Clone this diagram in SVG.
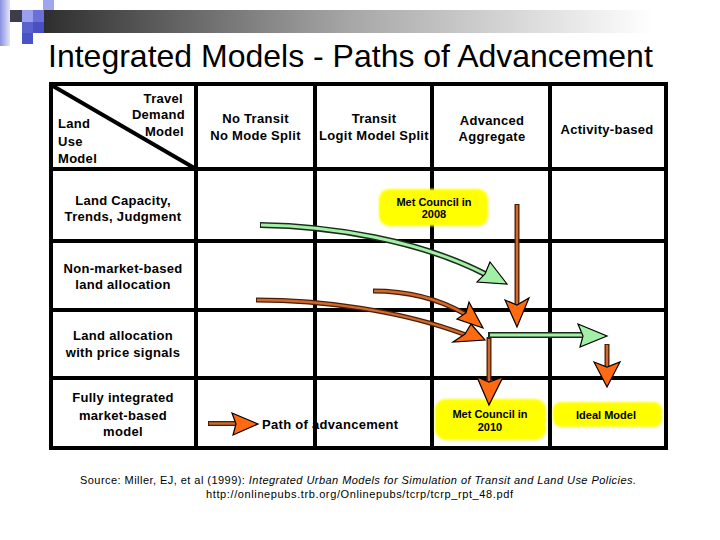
<svg xmlns="http://www.w3.org/2000/svg" width="720" height="540" viewBox="0 0 720 540">
<defs>
  <linearGradient id="bar" x1="0" x2="1" y1="0" y2="0">
    <stop offset="0" stop-color="#2e2e2e"/>
    <stop offset="0.45" stop-color="#a6a6a6"/>
    <stop offset="0.9" stop-color="#ffffff"/>
  </linearGradient>
  <linearGradient id="lb" x1="0" x2="1" y1="0" y2="0">
    <stop offset="0" stop-color="#8890e0"/>
    <stop offset="1" stop-color="#e4e6fa"/>
  </linearGradient>
  <filter id="soft" x="-10%" y="-20%" width="120%" height="140%"><feGaussianBlur stdDeviation="1.2"/></filter>
</defs>
<style>
  .t{font-family:"Liberation Sans",Arial,sans-serif;font-size:13px;font-weight:bold;letter-spacing:0.3px;fill:#000}
  .m{text-anchor:middle}
  .e{text-anchor:end}
  .b{font-family:"Liberation Sans",Arial,sans-serif;font-size:11px;font-weight:bold;text-anchor:middle;fill:#000}
  .grid{stroke:#000;stroke-width:4;fill:none}
  .gol{fill:none;stroke:#1c2a1c;stroke-width:6}
  .gin{fill:none;stroke:#a2f0a6;stroke-width:3}
  .bol{fill:none;stroke:#4a1e08;stroke-width:5}
  .bin{fill:none;stroke:#cf6a2c;stroke-width:2.4}
  .ohead{fill:#ff6a10;stroke:#000;stroke-width:1.2;stroke-linejoin:miter}
  .ghead{fill:#a2f0a6;stroke:#000;stroke-width:1.2;stroke-linejoin:miter}
  .box{fill:#ffff00;filter:url(#soft)}
  .src{font-family:"Liberation Sans",Arial,sans-serif;font-size:11px;fill:#000}
</style>

<g id="decoration">
  <rect x="0" y="0" width="10" height="46" fill="url(#lb)"/>
  <rect x="43" y="10" width="677" height="23" fill="url(#bar)"/>
  <rect x="10" y="10" width="12" height="12" fill="#3c3c4c"/>
  <rect x="22" y="10" width="11" height="12" fill="#9aa0ee"/>
  <rect x="33" y="10" width="11" height="12" fill="#6a70d8"/>
  <rect x="43" y="0" width="11" height="10" fill="#a0a6ee"/>
  <rect x="22" y="22" width="11" height="11" fill="#5a62d0"/>
  <rect x="33" y="22" width="11" height="11" fill="#4a50c0"/>
  <rect x="22" y="33" width="11" height="11" fill="#4a52c8"/>
</g>

<text id="title" x="48" y="67" font-family="'Liberation Sans',Arial,sans-serif" font-size="32" fill="#000">Integrated Models - Paths of Advancement</text>

<g id="table">
  <rect class="grid" x="51" y="84" width="615" height="364"/>
  <path class="grid" d="M196,84V448 M315,84V448 M432,84V448 M550,84V448 M51,169H666 M51,241H666 M51,310H666 M51,378H666"/>
  <path class="grid" d="M53,86 L196,169"/>
</g>

<g id="header-corner">
  <text class="t e" x="183" y="103">Travel</text>
  <text class="t e" x="185" y="119">Demand</text>
  <text class="t e" x="184" y="136">Model</text>
  <text class="t" x="58" y="128">Land</text>
  <text class="t" x="58" y="145.5">Use</text>
  <text class="t" x="58" y="163">Model</text>
</g>
<g id="col-no-transit">
  <text class="t m" x="255.5" y="122.5">No Transit</text>
  <text class="t m" x="255.5" y="139.5">No Mode Split</text>
</g>
<g id="col-transit">
  <text class="t m" x="374" y="122.5">Transit</text>
  <text class="t m" x="374" y="139.5">Logit Model Split</text>
</g>
<g id="col-advanced">
  <text class="t m" x="492" y="124.5">Advanced</text>
  <text class="t m" x="492" y="140.5">Aggregate</text>
</g>
<g id="col-activity">
  <text class="t m" x="607" y="134">Activity-based</text>
</g>
<g id="row-land-capacity">
  <text class="t m" x="123" y="204.5">Land Capacity,</text>
  <text class="t m" x="123" y="220.5">Trends, Judgment</text>
</g>
<g id="row-non-market">
  <text class="t m" x="123" y="273">Non-market-based</text>
  <text class="t m" x="123" y="289">land allocation</text>
</g>
<g id="row-price-signals">
  <text class="t m" x="123" y="340">Land allocation</text>
  <text class="t m" x="123" y="357">with price signals</text>
</g>
<g id="row-fully-integrated">
  <text class="t m" x="123" y="402">Fully integrated</text>
  <text class="t m" x="123" y="419.5">market-based</text>
  <text class="t m" x="123" y="436">model</text>
</g>

<g id="met-council-2008">
  <rect class="box" x="379" y="189" width="109" height="37" rx="10"/>
  <text class="b" x="434" y="205.5">Met Council in</text>
  <text class="b" x="434" y="217.5">2008</text>
</g>
<g id="met-council-2010">
  <rect class="box" x="435" y="399" width="111" height="41" rx="11"/>
  <text class="b" x="490" y="417.5">Met Council in</text>
  <text class="b" x="490" y="431">2010</text>
</g>
<g id="ideal-model">
  <rect class="box" x="553" y="402" width="109" height="25" rx="8"/>
  <text class="b" x="606" y="419">Ideal Model</text>
</g>

<g id="connectors">
  <path class="gol" d="M260,225 C330,226 420,240 487,275"/>
  <path class="gin" d="M261,225 C330,226 420,240 487,275"/>
  <polygon class="ghead" points="490,262 507,284 477,282 485,274"/>
  <path class="bol" d="M373,291 Q425,291 465,314"/>
  <path class="bin" d="M374,291 Q425,291 465,314"/>
  <polygon class="ohead" points="469,302 483,328 457,319 466,313"/>
  <path class="bol" d="M256,300 C320,300 400,310 466,335"/>
  <path class="bin" d="M257,300 C320,300 400,310 466,335"/>
  <polygon class="ohead" points="471,324 485,340 453,342 465,334"/>
  <path class="bol" d="M517,204 V304" stroke-width="4.4"/>
  <path class="bin" d="M517,205 V304" stroke-width="2.2"/>
  <polygon class="ohead" points="505,300 517,305 529,298 517,327"/>
  <path class="gol" d="M488,335 H582" stroke-width="5"/>
  <path class="gin" d="M490,335 H582" stroke-width="2.6"/>
  <polygon class="ghead" points="578,324 607,336 580,347 583,336"/>
  <path class="bol" d="M489,337 V382" stroke-width="4.4"/>
  <path class="bin" d="M489,339 V382" stroke-width="2.2"/>
  <polygon class="ohead" points="477,377 489,382 503,377 489,405"/>
  <path class="bol" d="M607,344 V366" stroke-width="4.4"/>
  <path class="bin" d="M607,345 V366" stroke-width="2.2"/>
  <polygon class="ohead" points="594,362 607,367 620,362 607,387"/>
</g>

<g id="legend">
  <path class="bol" d="M208,423.5 H236"/>
  <path class="bin" d="M209,423.5 H236"/>
  <polygon class="ohead" points="232,413 258,424 233,435 236,424"/>
  <text class="t" x="262" y="428.5">Path of advancement</text>
</g>

<g id="source">
  <text class="src" x="80" y="484" textLength="556" lengthAdjust="spacing">Source: Miller, EJ, et al (1999): <tspan font-style="italic">Integrated Urban Models for Simulation of Transit and Land Use Policies.</tspan></text>
  <text class="src" x="206" y="498" textLength="307" lengthAdjust="spacing">http://onlinepubs.trb.org/Onlinepubs/tcrp/tcrp_rpt_48.pdf</text>
</g>
</svg>
